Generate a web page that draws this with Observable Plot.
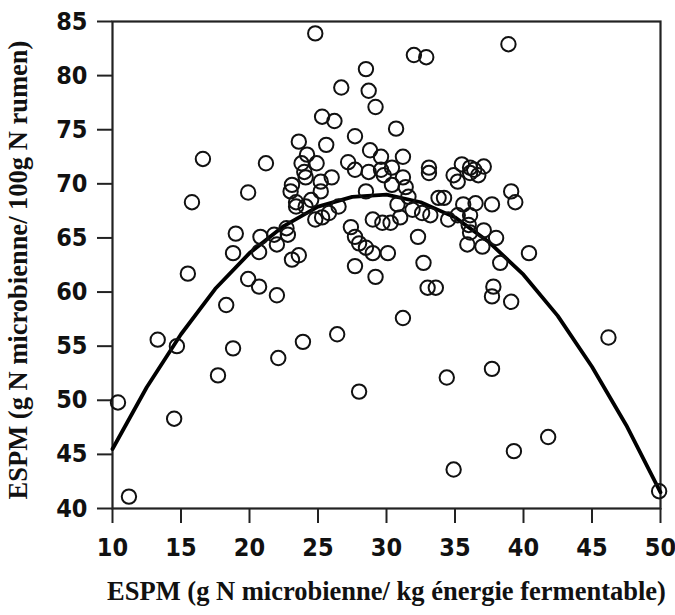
<!DOCTYPE html>
<html>
<head>
<meta charset="utf-8">
<script src="https://cdn.jsdelivr.net/npm/d3@7"></script>
<script src="https://cdn.jsdelivr.net/npm/@observablehq/plot@0.6"></script>
<style>
  html, body { margin: 0; padding: 0; background: #fff; }
</style>
</head>
<body>
<div id="chart"></div>
<script>
// Observed points: x = ESPM (g N / kg energie fermentable), y = ESPM (g N / 100 g N rumen)
const pointX = [
  10.4, 11.2, 13.3, 14.7, 14.5, 15.5, 15.8, 16.6, 17.7, 18.3,
  18.8, 18.8, 19.0, 19.9, 19.9, 20.7, 20.8, 20.7, 21.2, 21.8,
  22.0, 22.0, 22.1, 22.7, 22.8, 23.1, 23.6, 23.9, 23.6, 24.2,
  23.8, 24.0, 24.1, 23.1, 23.0, 23.4, 24.5, 23.4, 24.1, 24.8,
  25.3, 25.8, 26.5, 24.9, 25.2, 25.2, 26.0, 25.6, 25.3, 26.2,
  24.8, 26.7, 26.4, 27.7, 27.2, 27.7, 28.5, 28.7, 29.2, 28.8,
  29.6, 28.7, 29.6, 29.8, 30.4, 30.7, 31.2, 31.2, 28.5, 30.4,
  31.4, 31.6, 30.8, 27.4, 29.0, 29.7, 30.3, 31.0, 27.7, 28.0,
  28.5, 29.0, 30.1, 27.7, 29.2, 28.0, 31.2, 32.3, 32.7, 33.0,
  33.6, 31.9, 32.6, 33.2, 32.0, 32.9, 33.1, 33.1, 33.8, 34.2,
  34.5, 35.2, 34.9, 35.2, 35.5, 36.1, 35.6, 35.9, 36.1, 36.0,
  37.1, 36.4, 36.7, 36.1, 36.5, 37.7, 39.1, 39.4, 37.1, 38.0,
  36.1, 37.0, 38.3, 40.4, 37.8, 37.7, 39.1, 46.2, 34.4, 37.7,
  41.8, 39.3, 34.9, 49.9, 38.9
];
const pointY = [
  49.8, 41.1, 55.6, 55.0, 48.3, 61.7, 68.3, 72.3, 52.3, 58.8,
  54.8, 63.6, 65.4, 69.2, 61.2, 60.5, 65.1, 63.7, 71.9, 65.3,
  64.4, 59.7, 53.9, 65.9, 65.3, 63.0, 63.4, 55.4, 73.9, 72.7,
  71.9, 71.1, 70.6, 69.9, 69.3, 68.3, 68.5, 67.9, 67.9, 66.7,
  66.9, 67.3, 67.9, 71.9, 70.2, 69.3, 70.6, 73.6, 76.2, 75.8,
  83.9, 78.9, 56.1, 74.4, 72.0, 71.3, 80.6, 78.6, 77.1, 73.1,
  72.5, 71.1, 71.3, 70.8, 71.5, 75.1, 72.5, 70.6, 69.3, 69.9,
  69.7, 68.8, 68.1, 66.0, 66.7, 66.4, 66.4, 66.9, 65.1, 64.5,
  64.1, 63.6, 63.6, 62.4, 61.4, 50.8, 57.6, 65.1, 62.7, 60.4,
  60.4, 67.6, 67.3, 67.1, 81.9, 81.7, 71.5, 71.0, 68.7, 68.7,
  66.7, 67.1, 70.8, 70.2, 71.8, 71.5, 68.1, 64.4, 67.1, 66.2,
  71.6, 71.3, 70.8, 71.0, 68.2, 68.1, 69.3, 68.3, 65.7, 65.0,
  65.5, 64.2, 62.7, 63.6, 60.5, 59.6, 59.1, 55.8, 52.1, 52.9,
  46.6, 45.3, 43.6, 41.6, 82.9
];

// Fitted curve
const curveX = [10, 12.5, 15, 17.5, 20, 22.5, 25, 27.5, 30, 32.5, 35, 37.5, 40, 42.5, 45, 47.5, 50];
const curveY = [45.5, 51.2, 56.1, 60.3, 63.6, 66.1, 67.9, 68.8, 69.0, 68.3, 66.9, 64.6, 61.6, 57.8, 53.1, 47.7, 41.5];

const xTicks = [10, 15, 20, 25, 30, 35, 40, 45, 50];
const yTicks = [40, 45, 50, 55, 60, 65, 70, 75, 80, 85];

const xTitle = "ESPM (g N microbienne/ kg énergie fermentable)";
const yTitle = "ESPM (g N microbienne/ 100g N rumen)";

const points = pointX.map((x, i) => ({x, y: pointY[i]}));
const curve = curveX.map((x, i) => ({x, y: curveY[i]}));

const tickFont = '"Liberation Sans Narrow", "Arial Narrow", "DejaVu Sans Condensed", "Liberation Sans", sans-serif';
const titleFont = '"Liberation Serif", "Times New Roman", serif';

const chart = Plot.plot({
  width: 675,
  height: 615,
  marginLeft: 112,
  marginRight: 15,
  marginTop: 21,
  marginBottom: 107,
  style: {fontFamily: tickFont, fontWeight: "bold", color: "#111", background: "#fff", overflow: "visible"},
  x: {domain: [10, 50]},
  y: {domain: [40, 85]},
  marks: [
    Plot.frame({stroke: "#222", strokeWidth: 2.2}),
    Plot.axisX({ticks: xTicks, tickSize: 15, tickPadding: 15, fontSize: 25, fontWeight: "bold", fontFamily: tickFont, stroke: "#222", strokeWidth: 2, label: null}),
    Plot.axisY({ticks: yTicks, tickSize: 15, tickPadding: 10, fontSize: 25, fontWeight: "bold", fontFamily: tickFont, stroke: "#222", strokeWidth: 2, label: null}),
    Plot.line(curve, {x: "x", y: "y", stroke: "#000", strokeWidth: 3.8}),
    Plot.dot(points, {x: "x", y: "y", r: 7.2, stroke: "#111", strokeWidth: 2, fill: "none"}),
    Plot.text([xTitle], {frameAnchor: "bottom", textAnchor: "middle", dy: 91, fontFamily: titleFont, fontWeight: "bold", fontSize: 26.5, fill: "#111"}),
    Plot.text([yTitle], {frameAnchor: "left", textAnchor: "middle", rotate: -90, dx: -94, dy: 5, fontFamily: titleFont, fontWeight: "bold", fontSize: 26.5, fill: "#111"})
  ]
});
document.getElementById("chart").appendChild(chart);
</script>
</body>
</html>
